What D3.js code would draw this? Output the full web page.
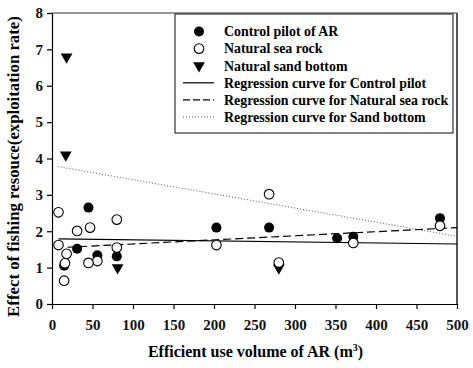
<!DOCTYPE html>
<html>
<head>
<meta charset="utf-8">
<script src="https://cdn.jsdelivr.net/npm/d3@7"></script>
<style>
  body { margin: 0; background: #fff; }
  svg text { font-family: "Liberation Serif", "Times New Roman", serif; font-weight: bold; }
</style>
</head>
<body>
<svg width="473" height="368"></svg>
<script>
// Control pilot of AR (filled circles)
const controlX = [45, 31, 15, 56, 80, 203, 268, 352, 372, 479];
const controlY = [2.65, 1.52, 1.05, 1.34, 1.31, 2.10, 2.10, 1.81, 1.85, 2.36];
// Natural sea rock (open circles)
const rockX = [8, 8, 31, 47, 80, 18, 16, 15, 56, 45, 80, 203, 268, 280, 372, 479];
const rockY = [2.52, 1.62, 2.01, 2.10, 2.32, 1.38, 1.12, 0.64, 1.18, 1.13, 1.55, 1.62, 3.02, 1.14, 1.68, 2.15];
// Natural sand bottom (triangles)
const sandX = [18, 17, 81, 280];
const sandY = [6.79, 4.10, 1.00, 0.99];
// Regression curve end points
const regControl = [[8, 1.79], [500, 1.65]];
const regRock = [[19, 1.56], [500, 2.10]];
const regSand = [[7, 3.78], [500, 1.86]];

const xTicks = d3.range(0, 501, 50);
const yTicks = d3.range(0, 9, 1);

const margin = {top: 13, right: 16, bottom: 64, left: 52},
      width = 473 - margin.left - margin.right,
      height = 368 - margin.top - margin.bottom;

const svg = d3.select("svg")
  .append("g")
  .attr("transform", "translate(" + margin.left + "," + margin.top + ")");

const x = d3.scaleLinear().domain([0, 500]).range([0, width]);
const y = d3.scaleLinear().domain([0, 8]).range([height, 0]);

// frame top/right
svg.append("line").attr("x1", 0).attr("x2", width).attr("y1", 0).attr("y2", 0)
  .attr("stroke", "#333").attr("stroke-width", 1.2);
svg.append("line").attr("x1", width).attr("x2", width).attr("y1", 0).attr("y2", height)
  .attr("stroke", "#555").attr("stroke-width", 2);

const xAxis = svg.append("g")
  .attr("transform", "translate(0," + height + ")")
  .call(d3.axisBottom(x).tickValues(xTicks).tickSize(5).tickSizeOuter(0).tickPadding(10));
const yAxis = svg.append("g")
  .call(d3.axisLeft(y).tickValues(yTicks).tickSize(5).tickSizeOuter(0).tickPadding(4));

[xAxis, yAxis].forEach(a => {
  a.attr("font-family", "Liberation Serif").attr("font-size", 15).attr("font-weight", "bold");
  a.selectAll("path, line").attr("stroke", "#000").attr("stroke-width", 1.2);
  a.selectAll("text").attr("fill", "#111")
    .style("font", "bold 15px 'Liberation Serif'");
});

// axis titles
const xt = svg.append("text")
  .attr("x", width / 2 + 1)
  .attr("y", height + 53)
  .attr("text-anchor", "middle")
  .attr("font-size", 16)
  .text("Efficient use volume of AR (m");
xt.append("tspan").attr("dy", -6).attr("font-size", 10).text("3");
xt.append("tspan").attr("dy", 6).text(")");

svg.append("text")
  .attr("transform", "translate(-33," + (height / 2 + 8) + ") rotate(-90)")
  .attr("text-anchor", "middle")
  .attr("font-size", 16.8)
  .text("Effect of fishing resouce(exploitation rate)");

// regression lines
const line = d3.line().x(d => x(d[0])).y(d => y(d[1]));
svg.append("path").attr("d", line(regSand)).attr("fill", "none")
  .attr("stroke", "#555").attr("stroke-width", 1).attr("stroke-dasharray", "1,2");
svg.append("path").attr("d", line(regControl)).attr("fill", "none")
  .attr("stroke", "#000").attr("stroke-width", 1.2);
svg.append("path").attr("d", line(regRock)).attr("fill", "none")
  .attr("stroke", "#000").attr("stroke-width", 1.2).attr("stroke-dasharray", "8,4");

const tri = d3.symbol().type(d3.symbolTriangle).size(60);

// points
svg.selectAll(".sand")
  .data(sandX.map((v, i) => [v, sandY[i]]))
  .join("path")
    .attr("class", "sand")
    .attr("d", tri)
    .attr("transform", d => "translate(" + x(d[0]) + "," + y(d[1]) + ") rotate(180)")
    .attr("fill", "#000");

svg.selectAll(".control")
  .data(controlX.map((v, i) => [v, controlY[i]]))
  .join("circle")
    .attr("class", "control")
    .attr("cx", d => x(d[0]))
    .attr("cy", d => y(d[1]))
    .attr("r", 5)
    .attr("fill", "#000");

svg.selectAll(".rock")
  .data(rockX.map((v, i) => [v, rockY[i]]))
  .join("circle")
    .attr("class", "rock")
    .attr("cx", d => x(d[0]))
    .attr("cy", d => y(d[1]))
    .attr("r", 4.8)
    .attr("fill", "#fff")
    .attr("stroke", "#000")
    .attr("stroke-width", 1.1);

// legend
const legendItems = [
  {label: "Control pilot of AR", kind: "filled"},
  {label: "Natural sea rock", kind: "open"},
  {label: "Natural sand bottom", kind: "tri"},
  {label: "Regression curve for Control pilot", kind: "solid"},
  {label: "Regression curve for Natural sea rock", kind: "dash"},
  {label: "Regression curve for Sand bottom", kind: "dot"}
];

const lg = svg.append("g").attr("transform", "translate(" + (175 - margin.left) + "," + (14 - margin.top) + ")");
lg.append("rect").attr("x", 0).attr("y", 0).attr("width", 278).attr("height", 119)
  .attr("fill", "#fff").attr("stroke", "#333").attr("stroke-width", 1.2);

const row = lg.selectAll(".item")
  .data(legendItems)
  .join("g")
    .attr("class", "item")
    .attr("transform", (d, i) => "translate(0," + (17.5 + i * 17.1) + ")");

row.each(function(d) {
  const g = d3.select(this);
  if (d.kind === "filled") {
    g.append("circle").attr("cx", 24).attr("cy", 0).attr("r", 5).attr("fill", "#000");
  } else if (d.kind === "open") {
    g.append("circle").attr("cx", 24).attr("cy", 0).attr("r", 4.8)
      .attr("fill", "#fff").attr("stroke", "#000").attr("stroke-width", 1.1);
  } else if (d.kind === "tri") {
    g.append("path").attr("d", tri).attr("transform", "translate(24,0) rotate(180)").attr("fill", "#000");
  } else {
    const l = g.append("line").attr("x1", 8).attr("x2", 39).attr("y1", 0).attr("y2", 0)
      .attr("stroke", d.kind === "dot" ? "#555" : "#000")
      .attr("stroke-width", d.kind === "dot" ? 1 : 1.2);
    if (d.kind === "dash") l.attr("stroke-dasharray", "7,3");
    if (d.kind === "dot") l.attr("stroke-dasharray", "1,2");
  }
  g.append("text").attr("x", 49).attr("dy", "0.35em").attr("font-size", 13.9).text(d.label);
});
</script>
</body>
</html>
